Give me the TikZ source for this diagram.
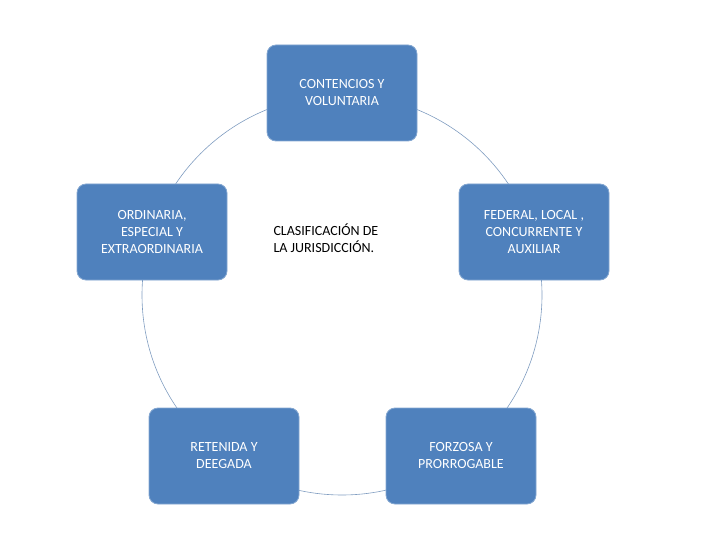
\documentclass[tikz,border=0pt]{standalone}
\usepackage{fontspec}
\setmainfont{Carlito}
\definecolor{boxblue}{HTML}{4F81BD}
\definecolor{ringc}{HTML}{7F9CC0}
\begin{document}
\begin{tikzpicture}[x=1pt,y=-1pt,
  bx/.style={draw=boxblue!70!white,line width=0.8pt,fill=boxblue,rounded corners=9pt,minimum width=150pt,minimum height=96pt,text=white,align=center,font=\fontsize{14}{17}\selectfont,inner sep=2pt}]
\useasboundingbox (0,0) rectangle (720,540);
\draw[ringc,line width=0.6pt] (342,295) circle[radius=200];
\node[bx] (t) at (342,93) {CONTENCIOS Y\\VOLUNTARIA};
\node[bx] (l) at (152,232) {ORDINARIA,\\ESPECIAL Y\\EXTRAORDINARIA};
\node[bx] (r) at (534,232) {FEDERAL, LOCAL ,\\CONCURRENTE Y\\AUXILIAR};
\node[bx] (bl) at (224,456) {RETENIDA Y\\DEEGADA};
\node[bx] (br) at (461,456) {FORZOSA Y\\PRORROGABLE};
\node[align=left,anchor=west,font=\fontsize{14}{17}\selectfont] (c) at (270,238) {CLASIFICACIÓN DE\\LA JURISDICCIÓN.};
\end{tikzpicture}
\end{document}
